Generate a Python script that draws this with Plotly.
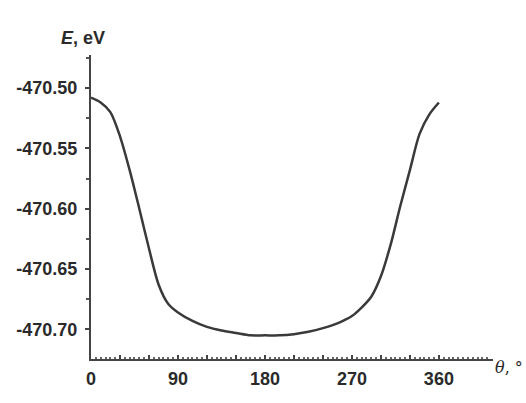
import plotly.graph_objects as go

theta = [0, 10, 20, 30, 40, 50, 60, 70, 80, 90, 105, 120, 135, 150, 165, 180, 195, 210,
         225, 240, 255, 270, 280, 290, 300, 310, 320, 330, 340, 350, 360]
energy = [-470.508, -470.512, -470.520, -470.540, -470.568, -470.600, -470.633, -470.663,
          -470.679, -470.686, -470.693, -470.698, -470.701, -470.703, -470.705, -470.705,
          -470.705, -470.704, -470.702, -470.699, -470.695, -470.689, -470.682, -470.673,
          -470.656, -470.630, -470.598, -470.568, -470.538, -470.522, -470.512]

x_ticks = list(range(0, 361, 30))
x_labels = ["<b>0</b>", "", "", "<b>90</b>", "", "", "<b>180</b>", "", "", "<b>270</b>", "", "", "<b>360</b>"]
y_ticks = [-470.70, -470.65, -470.60, -470.55, -470.50]
y_labels = ["<b>-470.70</b>", "<b>-470.65</b>", "<b>-470.60</b>", "<b>-470.55</b>", "<b>-470.50</b>"]

FAM = "Liberation Sans, Arial, sans-serif"
tfont = dict(family=FAM, size=18, color="#2a2a2a")

fig = go.Figure()
fig.add_trace(go.Scatter(x=theta, y=energy, mode="lines",
                         line=dict(color="#3a3a3a", width=2.5, shape="spline", smoothing=0.8),
                         showlegend=False, hoverinfo="skip"))

fig.update_layout(
    width=526, height=403,
    margin=dict(l=91, r=33, t=55, b=44),
    paper_bgcolor="white", plot_bgcolor="white",
    font=tfont,
    xaxis=dict(range=[0, 416], tickvals=x_ticks, ticktext=x_labels,
               showgrid=False, zeroline=False, showline=True, linecolor="#444", linewidth=2,
               ticks="inside", ticklen=4, tickwidth=1.5, tickcolor="#444",
               tickfont=tfont, ticklabelstandoff=2,
               minor=dict(dtick=5, ticks="inside", ticklen=2, tickcolor="#666")),
    yaxis=dict(range=[-470.7246, -470.4726], tickvals=y_ticks, ticktext=y_labels,
               showgrid=False, zeroline=False, showline=True, linecolor="#444", linewidth=2,
               ticks="outside", ticklen=4, tickwidth=1.5, tickcolor="#444",
               tickfont=tfont, ticklabelstandoff=4,
               minor=dict(dtick=0.025, ticks="outside", ticklen=3, tickcolor="#555")),
)

fig.add_annotation(xref="paper", yref="paper", x=-0.08, y=1.095,
                   text="<b><i>E</i>, eV</b>", showarrow=False,
                   font=dict(family=FAM, size=18, color="#2a2a2a"))
fig.add_annotation(xref="paper", yref="paper", x=1.0, y=-0.066, xanchor="left",
                   text="<i>θ</i>, °", showarrow=False,
                   font=dict(family="DejaVu Serif, serif", size=16, color="#2a2a2a"))

fig.write_html("out.html", config={"displayModeBar": False},
               post_script="document.body.style.margin='0';document.body.style.overflow='hidden';")
